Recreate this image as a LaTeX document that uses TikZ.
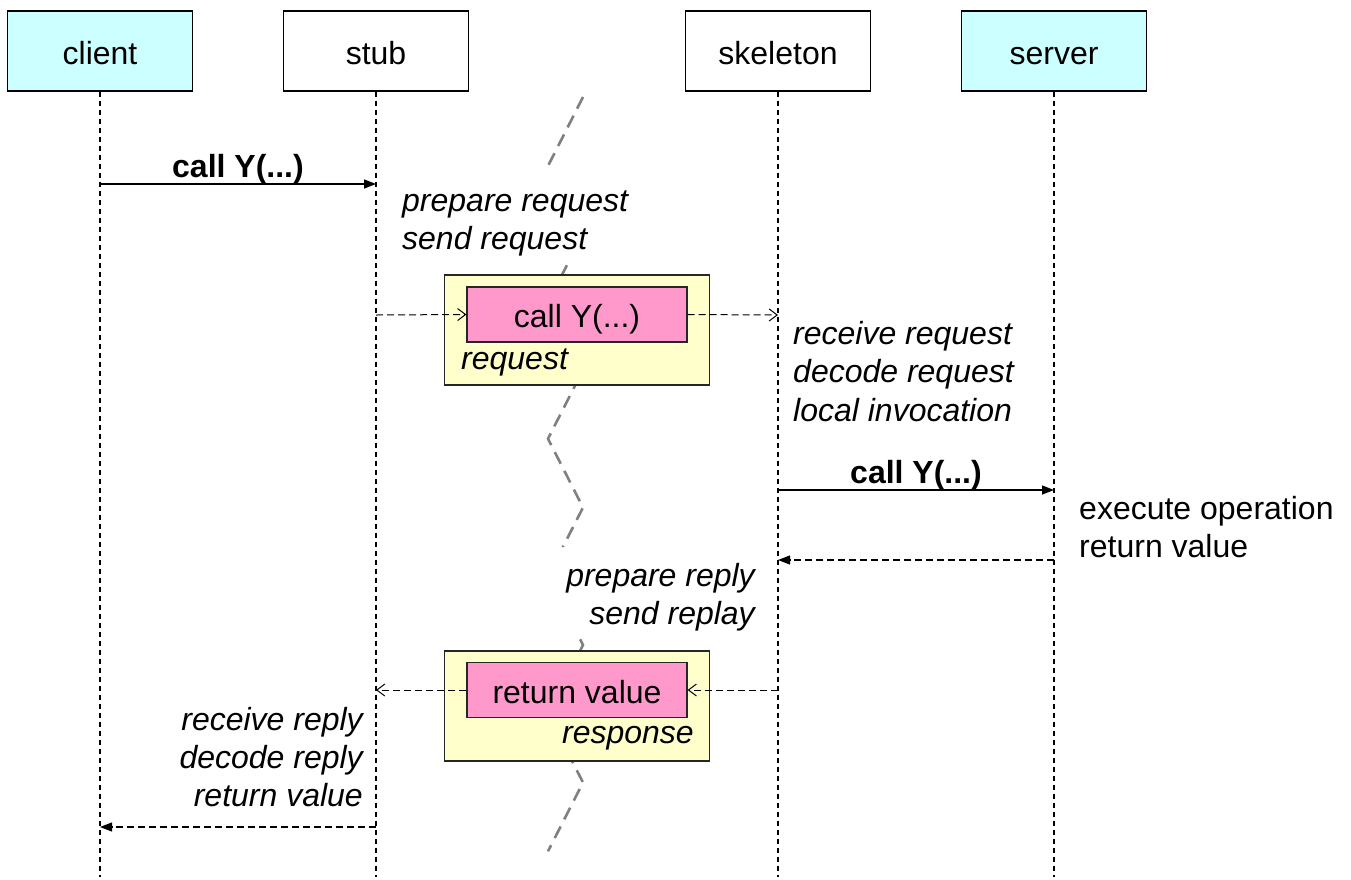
\documentclass[tikz,border=0pt]{standalone}
\usepackage{fontspec}
\setmainfont{Liberation Sans}
\usetikzlibrary{arrows.meta}
\definecolor{headcyan}{HTML}{CCFFFF}
\definecolor{yellowbox}{HTML}{FFFFCC}
\definecolor{pinkbox}{HTML}{FF99CC}
\definecolor{zzgray}{HTML}{808080}
\begin{document}
\begin{tikzpicture}[x=1pt,y=-1pt,
  every node/.style={font=\fontsize{32}{38.4}\selectfont},
  head/.style={draw=black,line width=1.2pt,minimum width=185pt,minimum height=80pt,inner sep=0pt,text height=29pt,text depth=3pt},
  life/.style={line width=1.1pt,dash pattern=on 5pt off 4pt},
  msg/.style={line width=1.4pt,-{Triangle[length=12pt,width=9pt]}},
  ret/.style={line width=1.1pt,dash pattern=on 7pt off 4pt,-{Triangle[length=12pt,width=9pt]}},
  flow/.style={line width=1pt,dash pattern=on 7pt off 4pt,-{Straight Barb[length=8pt,width=12pt]}},
  env/.style={draw=black!85,fill=yellowbox,line width=1.2pt,minimum width=265pt,minimum height=110pt,inner sep=0pt},
  payload/.style={draw=black!85,fill=pinkbox,line width=1.2pt,minimum width=220pt,minimum height=55pt,inner sep=0pt,text height=29pt,text depth=3pt},
  note/.style={font=\fontsize{32}{38.4}\selectfont\itshape,inner sep=0pt},
  plain/.style={font=\fontsize{32}{38.4}\selectfont,inner sep=0pt},
  bold/.style={font=\fontsize{32}{38.4}\selectfont\bfseries,inner sep=0pt},
  zigzag/.style={draw=zzgray,line width=2.6pt,dash pattern=on 13pt off 8pt}]
\useasboundingbox (0,0) rectangle (1351,879);

% headers
\node[head,fill=headcyan] (client) at (100,51) {client};
\node[head,fill=white] (stub) at (376,51) {stub};
\node[head,fill=white] (skel) at (778,51) {skeleton};
\node[head,fill=headcyan] (server) at (1054,51) {server};

% lifeline ends
\coordinate (clientend) at (100,877);
\coordinate (stubend) at (376,877);
\coordinate (skelend) at (778,877);
\coordinate (serverend) at (1054,877);
\draw[life] (client.south) -- (clientend);
\draw[life] (stub.south) -- (stubend);
\draw[life] (skel.south) -- (skelend);
\draw[life] (server.south) -- (serverend);

% zigzag separator (hidden behind the two "prepare" notes)
\begin{scope}
\clip (0,0) rectangle (1351,166) (0,263) rectangle (1351,547) (0,638) rectangle (1351,879);
\draw[zigzag] (583,97) -- (548,166) -- (583,234) -- (548,302) -- (583,370)
  -- (548,438.75) -- (583,507.5) -- (548,576.25) -- (583,645) -- (548,713.75)
  -- (583,782.5) -- (548,851.25);
\end{scope}

% text notes
\node[note,anchor=west,align=left] (preqtxt) at (402,223.5) {prepare request\\send request};
\node[note,anchor=west,align=left] (recvtxt) at (793,371.5) {receive request\\decode request\\local invocation};
\node[plain,anchor=west,align=left] (exectxt) at (1079,527) {execute operation\\return value};
\node[note,anchor=east,align=right] (preptxt) at (755,597) {prepare reply\\send replay};
\node[note,anchor=east,align=right] (recvreptxt) at (363,757) {receive reply\\decode reply\\return value};

% envelopes
\node[env] (yreq) at (577,330) {};
\node[payload] (preq) at (577,314.5) {call Y(...)};
\node[note,anchor=base west] (reqlbl) at (461,369) {request};
\node[env] (yrep) at (577,706) {};
\node[payload] (prep) at (577,690) {return value};
\node[note,anchor=base east] (replbl) at (694,743) {response};

% message coordinates
\coordinate (c1) at (100,184);
\coordinate (s1) at (376,184);
\coordinate (s2) at (376,315);
\coordinate (k2) at (778,315);
\coordinate (k3) at (778,490);
\coordinate (v3) at (1054,490);
\coordinate (v4) at (1054,560);
\coordinate (k4) at (778,560);
\coordinate (k5) at (778,690);
\coordinate (s5) at (376,690);
\coordinate (s6) at (376,827);
\coordinate (c6) at (100,827);

\draw[msg] (c1) -- node[bold,above=-1pt] (lbl1) {call Y(...)} (s1);
\draw[flow] (s2) -- (preq.west);
\draw[flow] (preq.east) -- (k2);
\draw[msg] (k3) -- node[bold,above=-1pt] (lbl2) {call Y(...)} (v3);
\draw[ret] (v4) -- (k4);
\draw[flow] (k5) -- (prep.east);
\draw[flow] (prep.west) -- (s5);
\draw[ret] (s6) -- (c6);
\end{tikzpicture}
\end{document}
